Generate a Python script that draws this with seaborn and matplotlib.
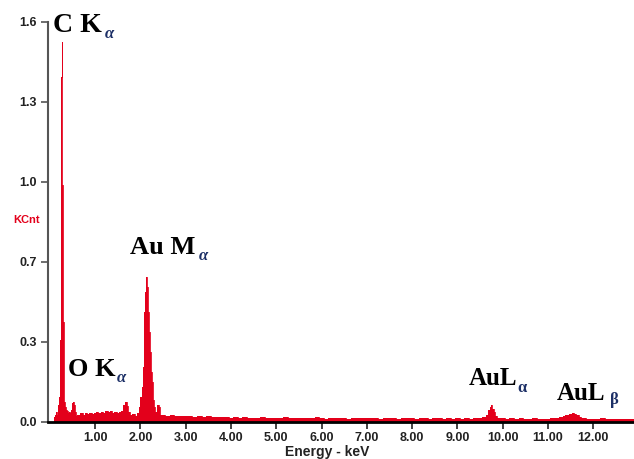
import numpy as np
import seaborn as sns
import matplotlib.pyplot as plt

# EDS spectrum (energy in keV, counts in KCnt)
energy_kev = [
    0.08, 0.10, 0.12, 0.14, 0.16, 0.18, 0.20, 0.21, 0.22, 0.23, 0.24, 0.25, 0.26,
    0.27, 0.28, 0.29, 0.30, 0.31, 0.32, 0.34, 0.36, 0.38, 0.40, 0.42, 0.44, 0.46,
    0.48, 0.50, 0.52, 0.54, 0.56, 0.58,
    0.60, 0.65, 0.70, 0.75, 0.80, 0.85, 0.90, 0.95, 1.00, 1.05, 1.10, 1.15, 1.20,
    1.25, 1.30, 1.35, 1.40, 1.45, 1.50, 1.55, 1.60, 1.65, 1.68, 1.71, 1.75, 1.80,
    1.85, 1.90, 1.95, 1.98,
    2.02, 2.04, 2.06, 2.08, 2.10, 2.12, 2.14, 2.16, 2.18, 2.20, 2.22, 2.24, 2.26,
    2.28, 2.30, 2.33, 2.36, 2.39, 2.42, 2.45,
    2.5, 2.6, 2.7, 2.8, 2.9, 3.0, 3.1, 3.2, 3.3, 3.4, 3.5, 3.6, 3.7, 3.8, 3.9,
    4.0, 4.1, 4.2, 4.3, 4.4, 4.5, 4.6, 4.7, 4.8, 4.9, 5.0, 5.1, 5.2, 5.3, 5.4,
    5.5, 5.6, 5.7, 5.8, 5.9, 6.0, 6.1, 6.2, 6.3, 6.4, 6.5, 6.6, 6.7, 6.8, 6.9,
    7.0, 7.1, 7.2, 7.3, 7.4, 7.5, 7.6, 7.7, 7.8, 7.9, 8.0, 8.1, 8.2, 8.3, 8.4,
    8.5, 8.6, 8.7, 8.8, 8.9, 9.0, 9.1, 9.2, 9.3, 9.4, 9.5, 9.6,
    9.65, 9.70, 9.73, 9.76, 9.79, 9.82, 9.86, 9.90,
    10.0, 10.1, 10.2, 10.3, 10.4, 10.5, 10.6, 10.7, 10.8, 10.9, 11.0, 11.1, 11.2,
    11.3, 11.35, 11.4, 11.45, 11.5, 11.55, 11.6, 11.65, 11.7, 11.75, 11.8,
    11.9, 12.0, 12.1, 12.2, 12.3, 12.4, 12.5, 12.6, 12.7, 12.8, 12.9,
]
kcnt = [
    0.0, 0.020, 0.030, 0.040, 0.030, 0.050, 0.070, 0.10, 0.16, 0.32, 0.33, 1.38, 1.38,
    1.52, 0.95, 0.43, 0.40, 0.12, 0.08, 0.06, 0.050, 0.040, 0.045, 0.035, 0.040, 0.035,
    0.050, 0.075, 0.080, 0.070, 0.040, 0.025,
    0.030, 0.028, 0.035, 0.030, 0.036, 0.032, 0.038, 0.034, 0.036, 0.040, 0.035, 0.041, 0.038,
    0.043, 0.040, 0.044, 0.038, 0.042, 0.036, 0.040, 0.045, 0.070, 0.082, 0.065, 0.040, 0.030,
    0.034, 0.026, 0.035, 0.060,
    0.10, 0.14, 0.22, 0.40, 0.44, 0.52, 0.58, 0.54, 0.44, 0.36, 0.28, 0.20, 0.16,
    0.09, 0.06, 0.040, 0.040, 0.068, 0.060, 0.030,
    0.028, 0.025, 0.027, 0.024, 0.026, 0.023, 0.025, 0.022, 0.024, 0.021, 0.023, 0.020, 0.022, 0.019, 0.021,
    0.018, 0.020, 0.017, 0.019, 0.016, 0.018, 0.016, 0.019, 0.017, 0.015, 0.018, 0.016, 0.019, 0.015, 0.017,
    0.016, 0.018, 0.015, 0.017, 0.019, 0.016, 0.014, 0.017, 0.015, 0.018, 0.016, 0.014, 0.017, 0.015, 0.016,
    0.018, 0.015, 0.017, 0.014, 0.016, 0.015, 0.017, 0.014, 0.016, 0.015, 0.017, 0.014, 0.016, 0.015, 0.013,
    0.016, 0.018, 0.014, 0.015, 0.013, 0.016, 0.014, 0.015, 0.013, 0.016, 0.015, 0.020,
    0.030, 0.048, 0.062, 0.068, 0.052, 0.040, 0.026, 0.018,
    0.015, 0.014, 0.016, 0.013, 0.015, 0.014, 0.012, 0.015, 0.013, 0.014, 0.013, 0.015, 0.016,
    0.020, 0.024, 0.028, 0.030, 0.034, 0.035, 0.033, 0.028, 0.022, 0.017, 0.015,
    0.013, 0.014, 0.012, 0.015, 0.013, 0.012, 0.014, 0.012, 0.013, 0.012, 0.013,
]

x_ticks = [1, 2, 3, 4, 5, 6, 7, 8, 9, 10, 11, 12]
x_tick_labels = ['1.00', '2.00', '3.00', '4.00', '5.00', '6.00',
                 '7.00', '8.00', '9.00', '10.00', '11.00', '12.00']
y_tick_labels = ['0.0', '0.3', '0.7', '1.0', '1.3', '1.6']

sns.set_theme(style="ticks")
plt.rcParams['font.family'] = ['Liberation Sans', 'DejaVu Sans']

red = '#e3001b'
navy = '#1c2f66'

fig = plt.figure(figsize=(6.34, 4.59), dpi=100)
ax = fig.add_axes([48 / 634, 1 - 422 / 459, 1 - 48 / 634, 400 / 459])

ax.fill_between(energy_kev, kcnt, step='mid', color=red, lw=0)
sns.lineplot(x=energy_kev, y=kcnt, drawstyle='steps-mid', color=red, lw=0.6, ax=ax)

ax.set_xlim(-0.04, 12.9)
ax.set_ylim(0, 1.6)
ax.set_xticks(x_ticks)
ax.set_xticklabels(x_tick_labels)
ax.set_yticks(np.linspace(0, 1.6, len(y_tick_labels)))
ax.set_yticklabels(y_tick_labels)
for lab in ax.get_xticklabels() + ax.get_yticklabels():
    lab.set_fontweight('bold')
    lab.set_fontsize(9)
    lab.set_color('#222222')
ax.tick_params(axis='x', length=5, width=1.2, color='#222222', pad=2)
ax.tick_params(axis='y', length=5, width=1.2, color='#555555', pad=3)

ax.spines['top'].set_visible(False)
ax.spines['right'].set_visible(False)
ax.spines['bottom'].set_color('black')
ax.spines['bottom'].set_linewidth(2)
ax.spines['left'].set_color('#555555')
ax.spines['left'].set_linewidth(1.5)
ax.set_xlabel('')
ax.set_ylabel('')

# axis captions
fig.text(13 / 634, 1 - 220 / 459, 'KCnt', color=red, fontsize=8, fontweight='bold',
         ha='left', va='center')
fig.text(327 / 634, 1 - 452 / 459, 'Energy - keV', color='#222222', fontsize=10,
         fontweight='bold', ha='center', va='center')

# peak labels
serif = ['Liberation Serif', 'DejaVu Serif']
peaks = [
    ('C K', 0.075, 1.56, '\u03b1', 1.22, 1.535, 20, 'italic'),
    ('Au M', 1.77, 0.672, '\u03b1', 3.30, 0.648, 19, 'italic'),
    ('O K', 0.41, 0.184, '\u03b1', 1.48, 0.158, 19, 'italic'),
    ('AuL', 9.25, 0.148, '\u03b1', 10.33, 0.118, 18, 'normal'),
    ('AuL', 11.19, 0.088, '\u03b2', 12.38, 0.072, 18, 'normal'),
]
for txt, tx, ty, sub, sx, sy, size, style in peaks:
    ax.text(tx, ty, txt, family=serif, fontweight='bold', fontsize=size,
            ha='left', va='baseline', color='black')
    ax.text(sx, sy, sub, family=serif, fontweight='bold', fontsize=12,
            fontstyle=style, ha='left', va='baseline', color=navy)

fig.savefig('out.png', dpi=100)
